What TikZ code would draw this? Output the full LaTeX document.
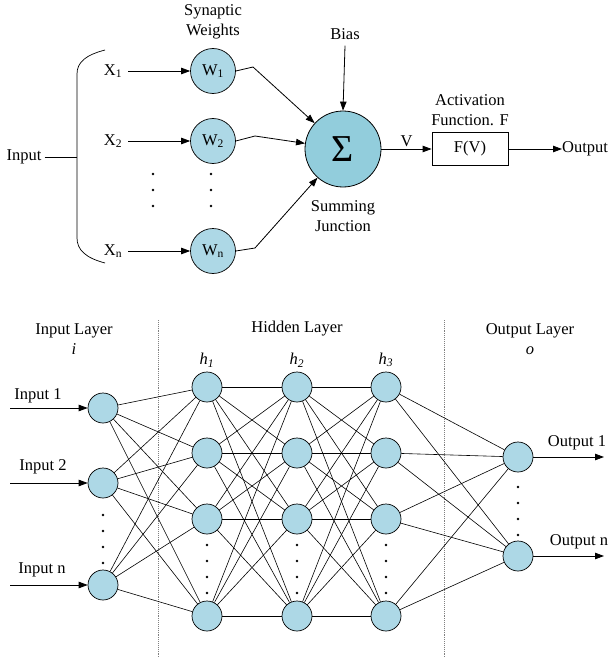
\documentclass[tikz,border=0pt]{standalone}
\usepackage{fontspec}
\setmainfont{Liberation Serif}
\usetikzlibrary{arrows.meta}
\definecolor{nodeblue}{HTML}{ADD8E6}
\definecolor{sigblue}{HTML}{92CDDC}
\begin{document}
\begin{tikzpicture}[x=1pt,y=-1pt,
  txt/.style={font=\fontsize{16.5}{19.5}\selectfont, inner sep=0pt, align=center},
  wnode/.style={circle, draw, line width=0.7pt, fill=nodeblue, minimum size=45pt, inner sep=0pt, font=\fontsize{16.5}{19.5}\selectfont},
  nnode/.style={circle, draw, line width=0.7pt, fill=nodeblue, minimum size=30pt, inner sep=0pt},
  arr/.style={-{Triangle[length=9pt,width=6.5pt]}, line width=0.8pt},
  conn/.style={line width=0.6pt},
  dotm/.style={circle, fill=black, inner sep=0pt, minimum size=2.8pt},
  sepline/.style={gray, densely dotted, line width=0.9pt}
]
\useasboundingbox (0,0) rectangle (609,658);

% ---------- top: single neuron ----------
\node[txt] (syn) at (213,22) {Synaptic\\Weights};
\node[wnode] (w1) at (213,71) {W\textsubscript{1}};
\node[wnode] (w2) at (213,141) {W\textsubscript{2}};
\node[wnode] (wn) at (213,251) {W\textsubscript{n}};
\node[txt] (x1) at (113,71) {X\textsubscript{1}};
\node[txt] (x2) at (113,141) {X\textsubscript{2}};
\node[txt] (xn) at (113,251) {X\textsubscript{n}};
\draw[arr] (x1.east) ++(6,0) coordinate (x1s) (x1s) -- (w1.west);
\draw[arr] (x2.east) ++(6,0) coordinate (x2s) (x2s) -- (w2.west);
\draw[arr] (xn.east) ++(6,0) coordinate (xns) (xns) -- (wn.west);

\foreach \yy in {174,190,206}{
  \node[dotm] (dx\yy) at (153,\yy) {};
  \node[dotm] (dw\yy) at (211,\yy) {};
}

% brace
\draw[line width=0.7pt] (105,50) .. controls (86,55) and (77,62) .. (77,74) -- (77,238) .. controls (77,250) and (86,258) .. (105,263);
\coordinate (bmid) at (77,157);
\node[txt] (inp) at (24,157) {Input};
\draw[line width=0.7pt] (inp.east) ++(3,0) coordinate (inps) (inps) -- (bmid);

% summing junction
\node[circle, draw, line width=0.8pt, fill=sigblue, minimum size=76pt, inner sep=0pt, font=\fontsize{38}{40}\selectfont] (sig) at (343,149) {Σ};
\node[txt] (bias) at (345,34) {Bias};
\draw[arr] (bias.south) ++(0,6) coordinate (bs) (bs) -- (sig.north);
\node[txt] (sum) at (343,216) {Summing\\Junction};

\coordinate (b1) at (253,67);
\coordinate (b2) at (255,136);
\coordinate (bn) at (255,248);
\draw[arr] (w1.east) -- (b1) -- (sig);
\draw[arr] (w2.east) -- (b2) -- (sig);
\draw[arr] (wn.east) -- (bn) -- (sig);

\node[draw, line width=0.8pt, minimum width=76pt, minimum height=33pt, inner sep=0pt, font=\fontsize{16.5}{19.5}\selectfont] (fv) at (470,149) {F(V)};
\node[txt] (act) at (470,110) {Activation\\Function. F};
\draw[arr] (sig.east) -- (fv.west) node[midway, above=2pt, txt] (vlab) {V};
\node[txt, anchor=west] (outp) at (562,149) {Output};
\draw[arr] (fv.east) -- (outp.west);

% ---------- bottom: network ----------
\draw[sepline] (158,320) coordinate (s1a) -- (158,658) coordinate (s1b);
\draw[sepline] (444,320) coordinate (s2a) -- (444,658) coordinate (s2b);

\node[txt] (ilay) at (74,339) {Input Layer\\\textit{i}};
\node[txt] (hlay) at (297,329) {Hidden Layer};
\node[txt] (olay) at (530,339) {Output Layer\\\textit{o}};

\node[nnode] (i1) at (103,408) {};
\node[nnode] (i2) at (103,483) {};
\node[nnode] (in) at (103,585) {};

\foreach \l/\xx in {1/207,2/297,3/386}{
  \node[txt] (hl\l) at (\xx,360) {\textit{h}\textsubscript{\textit{\l}}};
  \node[nnode] (h\l1) at (\xx,387) {};
  \node[nnode] (h\l2) at (\xx,453) {};
  \node[nnode] (h\l3) at (\xx,519) {};
  \node[nnode] (h\l4) at (\xx,616) {};
  \foreach \yy in {545,561,577,593}{
    \node[dotm] (hd\l\yy) at (\xx,\yy) {};
  }
}
\node[nnode] (o1) at (518,457) {};
\node[nnode] (on) at (518,556) {};

\foreach \yy in {515,531,547,563}{ \node[dotm] (id\yy) at (103,\yy) {}; }
\foreach \yy in {487,503,519,535}{ \node[dotm] (od\yy) at (518,\yy) {}; }

\foreach \a in {i1,i2,in}{
  \foreach \b in {1,2,3,4}{ \draw[conn] (\a) -- (h1\b); }
}
\foreach \a in {1,2,3,4}{
  \foreach \b in {1,2,3,4}{
    \draw[conn] (h1\a) -- (h2\b);
    \draw[conn] (h2\a) -- (h3\b);
  }
  \draw[conn] (h3\a) -- (o1);
  \draw[conn] (h3\a) -- (on);
}

% input arrows
\node[txt] (il1) at (38,396) {Input 1};
\node[txt] (il2) at (43,467) {Input 2};
\node[txt] (iln) at (42,570) {Input n};
\coordinate (ia1) at (10,408);
\coordinate (ia2) at (10,483);
\coordinate (ian) at (10,585);
\draw[arr] (ia1) -- (i1);
\draw[arr] (ia2) -- (i2);
\draw[arr] (ian) -- (in);

% output arrows
\node[txt] (ol1) at (577,443) {Output 1};
\node[txt] (oln) at (579,542) {Output n};
\coordinate (oa1) at (604,457);
\coordinate (oan) at (604,556);
\draw[arr] (o1) -- (oa1);
\draw[arr] (on) -- (oan);
\end{tikzpicture}
\end{document}
